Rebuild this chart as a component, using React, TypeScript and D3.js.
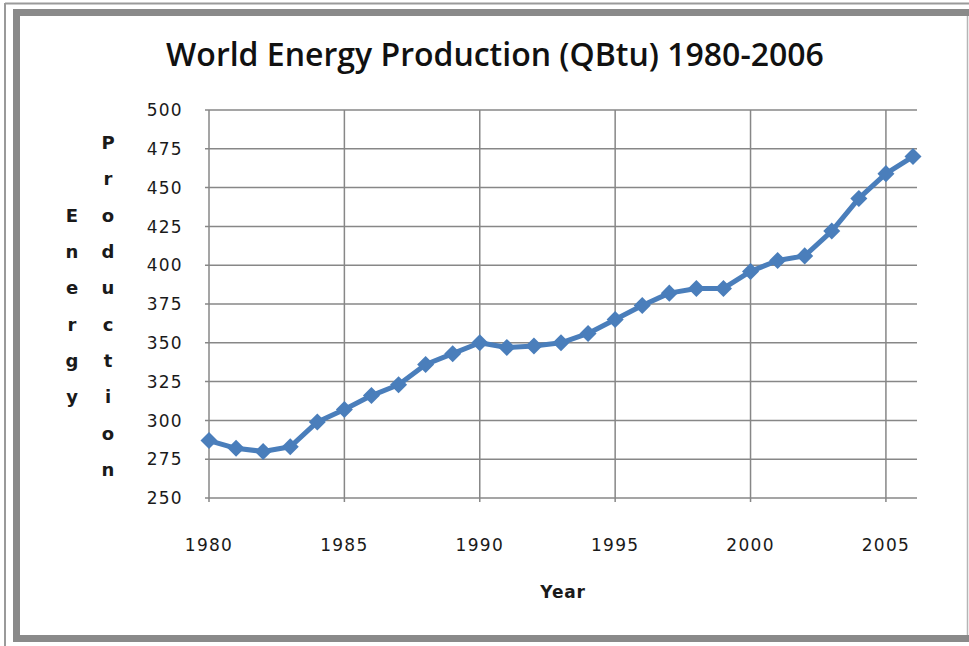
import React from "react";
import * as d3 from "d3";

// World energy production, quadrillion Btu
const years = [
  1980, 1981, 1982, 1983, 1984, 1985, 1986, 1987, 1988, 1989, 1990, 1991, 1992,
  1993, 1994, 1995, 1996, 1997, 1998, 1999, 2000, 2001, 2002, 2003, 2004, 2005,
  2006,
];
const production = [
  287, 282, 280, 283, 299, 307, 316, 323, 336, 343, 350, 347, 348, 350, 356,
  365, 374, 382, 385, 385, 396, 403, 406, 422, 443, 459, 470,
];
const yTicks = [250, 275, 300, 325, 350, 375, 400, 425, 450, 475, 500];
const xTicks = [1980, 1985, 1990, 1995, 2000, 2005];
const titleText = "World Energy Production (QBtu) 1980-2006";
const yTitleCols = ["Energy", "Production"];

export default function App() {
  const width = 969;
  const height = 646;
  const left = 209;
  const right = 913;
  const top = 110;
  const bottom = 498;
  const gridRight = 917;

  const x = d3.scaleLinear().domain([1980, 2006]).range([left, right]);
  const y = d3.scaleLinear().domain([250, 500]).range([bottom, top]);

  const points = years.map((yr, i) => [x(yr), y(production[i])] as [number, number]);
  const line = d3.line()(points) || "";
  const diamond = d3.symbol().type(d3.symbolSquare).size(145)() || "";

  const blue = "#4a7ebb";
  const grid = "#878787";
  const tickFont = "'DejaVu Sans', sans-serif";

  return (
    <svg
      width={width}
      height={height}
      style={{ position: "absolute", left: 0, top: 0, background: "#fff" }}
    >
      {/* frame */}
      <line x1={5} x2={969} y1={3.5} y2={3.5} stroke="#9a9a9a" strokeWidth={2} />
      <line x1={5} x2={5} y1={3} y2={646} stroke="#9a9a9a" strokeWidth={2} />
      <rect
        x={16.5}
        y={12.5}
        width={980}
        height={626}
        fill="none"
        stroke="#8a8a8a"
        strokeWidth={7}
      />
      <line x1={967.5} x2={967.5} y1={16} y2={635} stroke="#b5b5b5" strokeWidth={1.5} />

      {/* title */}
      <text
        x={495}
        y={66}
        textAnchor="middle"
        fontFamily="'Open Sans', sans-serif"
        fontWeight={600}
        fontSize={32}
        fill="#111"
      >
        {titleText}
      </text>

      {/* horizontal gridlines */}
      {yTicks.map((t) => (
        <line
          key={"h" + t}
          x1={left - 4}
          x2={gridRight}
          y1={y(t)}
          y2={y(t)}
          stroke={grid}
          strokeWidth={1.5}
        />
      ))}
      {/* vertical gridlines */}
      {xTicks.map((t) => (
        <line
          key={"v" + t}
          x1={x(t)}
          x2={x(t)}
          y1={top}
          y2={bottom + 4}
          stroke={grid}
          strokeWidth={1.5}
        />
      ))}

      {/* y tick labels */}
      {yTicks.map((t) => (
        <text
          key={"yl" + t}
          x={183}
          y={y(t)}
          dy="0.36em"
          textAnchor="end"
          fontFamily={tickFont}
          fontSize={17}
          letterSpacing={1.3}
          fill="#1a1a1a"
        >
          {t}
        </text>
      ))}
      {/* x tick labels */}
      {xTicks.map((t) => (
        <text
          key={"xl" + t}
          x={x(t)}
          y={545}
          dy="0.36em"
          textAnchor="middle"
          fontFamily={tickFont}
          fontSize={17}
          letterSpacing={1.3}
          fill="#1a1a1a"
        >
          {t}
        </text>
      ))}

      {/* axis titles */}
      <text
        x={(left + gridRight) / 2}
        y={592}
        dy="0.36em"
        textAnchor="middle"
        fontFamily={tickFont}
        fontWeight="bold"
        fontSize={17}
        letterSpacing={0.8}
        fill="#1a1a1a"
      >
        Year
      </text>
      {yTitleCols.map((word, ci) => {
        const cx = ci === 0 ? 72 : 108;
        const step = 36.3;
        const start = 306 - ((word.length - 1) * step) / 2;
        return word.split("").map((ch, k) => (
          <text
            key={word + k}
            x={cx}
            y={start + k * step}
            dy="0.36em"
            textAnchor="middle"
            fontFamily={tickFont}
            fontWeight="bold"
            fontSize={18}
            fill="#1a1a1a"
          >
            {ch}
          </text>
        ));
      })}

      {/* series */}
      <path d={line} fill="none" stroke={blue} strokeWidth={5} strokeLinejoin="round" />
      {points.map(([px, py], i) => (
        <path
          key={"m" + i}
          d={diamond}
          transform={`translate(${px},${py}) rotate(45)`}
          fill={blue}
        />
      ))}
    </svg>
  );
}
